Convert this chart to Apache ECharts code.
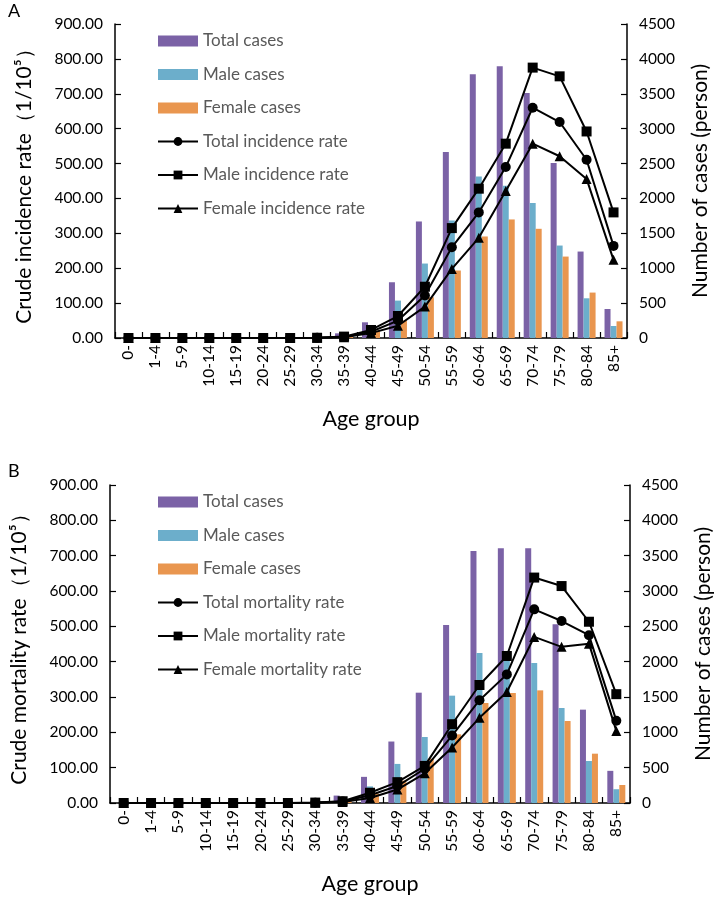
<!DOCTYPE html>
<html>
<head>
<meta charset="utf-8">
<script src="https://cdn.jsdelivr.net/npm/echarts@6/dist/echarts.min.js"></script>
<style>
html,body{margin:0;padding:0;background:#fff;}
#chart{width:717px;height:899px;}
</style>
</head>
<body>
<div id="chart"></div>
<script>
const categories = ['0-','1-4','5-9','10-14','15-19','20-24','25-29','30-34','35-39','40-44','45-49','50-54','55-59','60-64','65-69','70-74','75-79','80-84','85+'];

const leftTicks = [0, 900, 100];
const rightTicks = [0, 4500, 500];

// Panel A: incidence
const incTotalCases  = [0,0,0,0,0,0,0,6,67,225,799,1670,2665,3780,3895,3512,2507,1239,416];
const incMaleCases   = [0,0,0,0,0,0,0,4,40,120,536,1067,1684,2316,2182,1933,1325,569,172];
const incFemaleCases = [0,0,0,0,0,0,0,2,27,105,249,584,967,1455,1699,1565,1167,651,239];
const incTotalRate   = [0,0,0,0,0,0,0,0.5,3,18,50,122,260,360,490,660,619,511,264];
const incMaleRate    = [0,0,0,0,0,0,0,0.7,4,23,63,147,315,428,557,775,750,592,360];
const incFemaleRate  = [0,0,0,0,0,0,0,0.4,2,14,35,90,198,287,421,557,521,456,224];

// Panel B: mortality
const morTotalCases  = [0,0,0,0,0,0,0,4,105,370,870,1561,2519,3566,3604,3604,2528,1321,455];
const morMaleCases   = [0,0,0,0,0,0,0,3,70,235,553,934,1519,2123,2009,1981,1344,594,195];
const morFemaleCases = [0,0,0,0,0,0,0,1,35,135,317,627,972,1415,1557,1594,1160,698,255];
const morTotalRate   = [0,0,0,0,0,0,0,0.8,4,22,48,97,191,291,364,548,515,475,233];
const morMaleRate    = [0,0,0,0,0,0,0,1.2,5,29,59,105,223,334,416,638,614,513,308];
const morFemaleRate  = [0,0,0,0,0,0,0,0.5,3,14,38,84,157,241,314,470,442,451,204];

const FONT = 'Lato';
const PURPLE = '#7B62A6', BLUE = '#6CAECB', ORANGE = '#E9964F';

const chart = echarts.init(document.getElementById('chart'), null, {renderer:'canvas'});

function xAxisFor(gi){
  return {
    type:'category', gridIndex:gi, data:categories,
    axisLine:{show:true, lineStyle:{color:'#000', width:1.5}},
    axisTick:{show:true, inside:true, length:6, lineStyle:{color:'#000', width:1.2}},
    axisLabel:{rotate:90, fontSize:15.5, color:'#000', margin:7, fontFamily:FONT, interval:0},
    name:'Age group', nameLocation:'middle', nameGap:70,
    nameTextStyle:{fontSize:21.5, color:'#000', fontFamily:FONT},
    splitLine:{show:false}
  };
}
function leftAxisFor(gi, name){
  return {
    type:'value', gridIndex:gi, min:leftTicks[0], max:leftTicks[1], interval:leftTicks[2],
    axisLine:{show:true, lineStyle:{color:'#000', width:1.5}},
    axisTick:{show:true, inside:true, length:6, lineStyle:{color:'#000', width:1.2}},
    axisLabel:{fontSize:15.5, color:'#000', margin:12, fontFamily:FONT, formatter:v=>v.toFixed(2)},
    splitLine:{show:false},
    name:name, nameLocation:'middle', nameRotate:90, nameGap:80,
    nameTextStyle:{fontSize:21, color:'#000', fontFamily:FONT}
  };
}
function rightAxisFor(gi){
  return {
    type:'value', gridIndex:gi, position:'right', min:rightTicks[0], max:rightTicks[1], interval:rightTicks[2],
    axisLine:{show:true, lineStyle:{color:'#000', width:1.5}},
    axisTick:{show:true, inside:true, length:6, lineStyle:{color:'#000', width:1.2}},
    axisLabel:{fontSize:15.5, color:'#000', margin:12, fontFamily:FONT, formatter:v=>String(v)},
    splitLine:{show:false},
    name:'Number of cases (person)', nameLocation:'middle', nameRotate:90, nameGap:63,
    nameTextStyle:{fontSize:21, color:'#000', fontFamily:FONT}
  };
}
function bar(name, data, color, xi, yi){
  return {type:'bar', name:name, data:data, xAxisIndex:xi, yAxisIndex:yi,
    barWidth:6, barGap:'0%', itemStyle:{color:color}, z:2};
}
function line(name, data, symbol, size, xi, yi){
  return {type:'line', name:name, data:data, xAxisIndex:xi, yAxisIndex:yi,
    symbol:symbol, symbolSize:size, showAllSymbol:true,
    lineStyle:{color:'#000', width:2}, itemStyle:{color:'#000'}, z:5};
}
function legendFor(top, names){
  return {
    orient:'vertical', left:152, top:top, itemWidth:40, itemHeight:11, itemGap:16.5,
    textStyle:{fontSize:17, color:'#595959', fontFamily:FONT, lineHeight:17},
    data:[
      {name:'Total cases', icon:'rect'},
      {name:'Male cases', icon:'rect'},
      {name:'Female cases', icon:'rect'},
      {name:names[0]},{name:names[1]},{name:names[2]}
    ]
  };
}

const option = {
  animation:false,
  backgroundColor:'#fff',
  textStyle:{fontFamily:FONT},
  grid:[
    {left:115, right:90, top:24, height:314, outerBoundsMode:'none', containLabel:false},
    {left:110, right:87, top:485, height:318, outerBoundsMode:'none', containLabel:false}
  ],
  xAxis:[xAxisFor(0), xAxisFor(1)],
  yAxis:[
    leftAxisFor(0, 'Crude incidence rate（1/10⁵）'), rightAxisFor(0),
    leftAxisFor(1, 'Crude mortality rate（1/10⁵）'), rightAxisFor(1)
  ],
  legend:[
    legendFor(27.5, ['Total incidence rate','Male incidence rate','Female incidence rate']),
    legendFor(488.5, ['Total mortality rate','Male mortality rate','Female mortality rate'])
  ],
  graphic:[
    {type:'text', left:8, top:2, style:{text:'A', fontSize:18, fill:'#000', fontFamily:FONT}},
    {type:'text', left:8, top:462, style:{text:'B', fontSize:18, fill:'#000', fontFamily:FONT}}
  ],
  series:[
    bar('Total cases', incTotalCases, PURPLE, 0, 1),
    bar('Male cases', incMaleCases, BLUE, 0, 1),
    bar('Female cases', incFemaleCases, ORANGE, 0, 1),
    line('Total incidence rate', incTotalRate, 'circle', 10, 0, 0),
    line('Male incidence rate', incMaleRate, 'rect', 10, 0, 0),
    line('Female incidence rate', incFemaleRate, 'triangle', 10, 0, 0),
    bar('Total cases', morTotalCases, PURPLE, 1, 3),
    bar('Male cases', morMaleCases, BLUE, 1, 3),
    bar('Female cases', morFemaleCases, ORANGE, 1, 3),
    line('Total mortality rate', morTotalRate, 'circle', 10, 1, 2),
    line('Male mortality rate', morMaleRate, 'rect', 10, 1, 2),
    line('Female mortality rate', morFemaleRate, 'triangle', 10, 1, 2)
  ]
};
chart.setOption(option);
</script>
</body>
</html>
